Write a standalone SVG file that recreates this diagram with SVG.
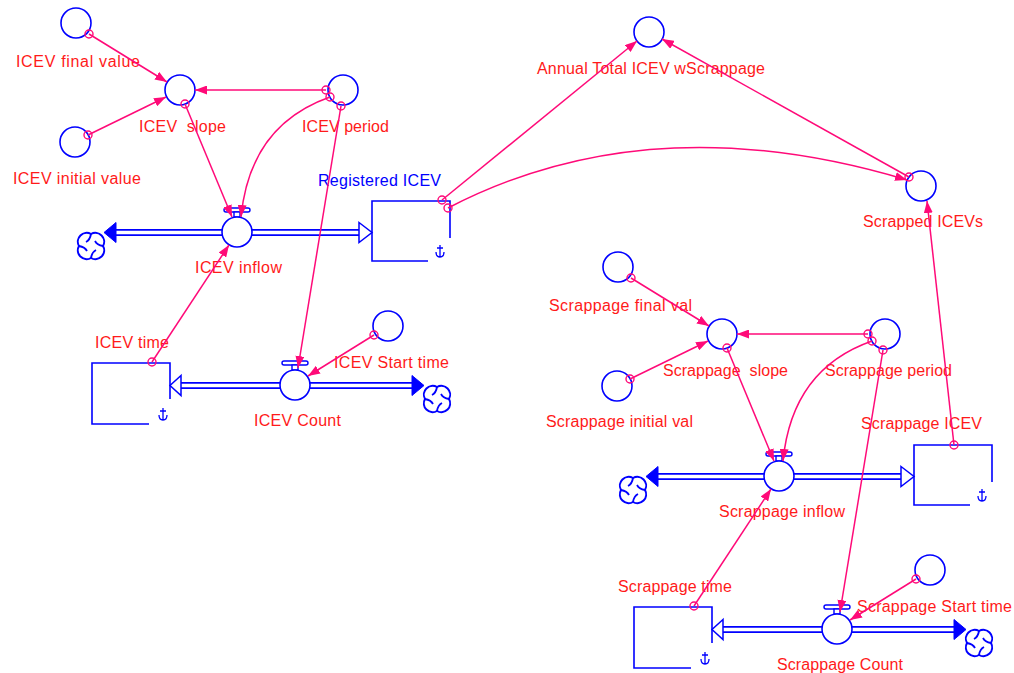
<svg xmlns="http://www.w3.org/2000/svg" xmlns:xlink="http://www.w3.org/1999/xlink" width="1014" height="673" viewBox="0 0 1014 673">
<style>
.aux{fill:#fff;stroke:#0000ff;stroke-width:1.6}
.stock{fill:none;stroke:#0000ff;stroke-width:1.6}
.ico{fill:none;stroke:#0000ff;stroke-width:1.3}
.pipeo{fill:none;stroke:#0000ff;stroke-width:7}
.pipei{fill:none;stroke:#fff;stroke-width:3.4}
.solid{fill:#0000ff;stroke:#0000ff;stroke-width:1}
.hollow{fill:#fff;stroke:#0000ff;stroke-width:1.5}
.bar{fill:#fff;stroke:#0000ff;stroke-width:1.4}
.lbl{font-family:"Liberation Sans",Arial,sans-serif;font-size:16px;fill:#ff1a1a;white-space:pre}
.blue{fill:#0000ff}
.cn{fill:none;stroke:#ff0a78;stroke-width:1.5;marker-end:url(#ah)}
.hd{fill:none;stroke:#ff0a78;stroke-width:1.4}
</style>
<defs>
<marker id="ah" viewBox="0 0 12 9" refX="12" refY="4.5" markerWidth="12" markerHeight="9" orient="auto" markerUnits="userSpaceOnUse">
<path d="M0,0 L12,4.5 L0,9 z" fill="#ff0a78"/>
</marker>
<g id="cloud">
<path class="ico" d="M0,-12 A8.8 8.8 0 0 1 12,0 A8.8 8.8 0 0 1 0,12 A8.8 8.8 0 0 1 -12,0 A8.8 8.8 0 0 1 0,-12 Z" style="stroke-width:2"/>
<path class="ico" d="M0,-12 Q-1,-6 -5,-4 M12,0 Q6,-1 4,-5 M0,12 Q1,6 5,4 M-12,0 Q-6,1 -4,5" style="stroke-width:1.8"/>
</g>
<g id="dag">
<path class="ico" d="M0,-7 V5 M-3,-4 H3 M-4,0 Q-4,5 0,5 Q4,5 4,0"/>
</g>
</defs>
<rect width="1014" height="673" fill="#fff"/>

<!-- flows (pipes) -->
<g id="flows">
<g id="flow-icev-inflow">
<path class="pipeo" d="M116,232.5 H359"/><path class="pipei" d="M114,232.5 H361"/>
<polygon class="solid" points="104,232.5 116,222.5 116,242.5"/>
<polygon class="hollow" points="359,222.5 372,232.5 359,242.5"/>
</g>
<g id="flow-icev-count">
<path class="pipeo" d="M181,385.5 H413"/><path class="pipei" d="M179,385.5 H415"/>
<polygon class="hollow" points="181,375.5 170,385.5 181,395.5"/>
<polygon class="solid" points="424,385.5 412,375.5 412,395.5"/>
</g>
<g id="flow-scrappage-inflow">
<path class="pipeo" d="M658,476.5 H901"/><path class="pipei" d="M656,476.5 H903"/>
<polygon class="solid" points="646,476.5 658,466.5 658,486.5"/>
<polygon class="hollow" points="901,466.5 914,476.5 901,486.5"/>
</g>
<g id="flow-scrappage-count">
<path class="pipeo" d="M723,629.5 H955"/><path class="pipei" d="M721,629.5 H957"/>
<polygon class="hollow" points="723,619.5 712,629.5 723,639.5"/>
<polygon class="solid" points="966,629.5 954,619.5 954,639.5"/>
</g>
</g>

<!-- clouds -->
<g id="cloud-icev-inflow"><use xlink:href="#cloud" href="#cloud" x="91" y="246"/></g>
<g id="cloud-icev-count"><use xlink:href="#cloud" href="#cloud" x="437" y="399"/></g>
<g id="cloud-scrappage-inflow"><use xlink:href="#cloud" href="#cloud" x="633" y="490"/></g>
<g id="cloud-scrappage-count"><use xlink:href="#cloud" href="#cloud" x="979" y="643"/></g>

<!-- left block nodes -->
<g id="icev-final-value"><circle class="aux" cx="76" cy="23" r="15"/><text class="lbl" x="16" y="67" textLength="124" lengthAdjust="spacing">ICEV final value</text></g>
<g id="icev-slope"><circle class="aux" cx="180" cy="90" r="15"/><text class="lbl" x="139" y="132" textLength="87" lengthAdjust="spacing">ICEV  slope</text></g>
<g id="icev-initial-value"><circle class="aux" cx="75" cy="142" r="15"/><text class="lbl" x="13" y="184" textLength="128" lengthAdjust="spacing">ICEV initial value</text></g>
<g id="icev-period"><circle class="aux" cx="343" cy="90" r="15"/><text class="lbl" x="302" y="132" textLength="87" lengthAdjust="spacing">ICEV period</text></g>
<g id="icev-inflow"><rect class="bar" x="224" y="208" width="26" height="4" rx="2"/><rect class="bar" x="234" y="212" width="6" height="5"/><circle class="aux" cx="237" cy="232" r="15"/><text class="lbl" x="195" y="273" textLength="87" lengthAdjust="spacing">ICEV inflow</text></g>
<g id="registered-icev"><path class="stock" d="M450,238 V201 H372 V261 H428"/><use xlink:href="#dag" href="#dag" x="440" y="252"/><text class="lbl blue" x="318" y="186" textLength="123" lengthAdjust="spacing">Registered ICEV</text></g>
<g id="icev-time"><path class="stock" d="M170,399 V363 H92 V424 H149"/><use xlink:href="#dag" href="#dag" x="163" y="415"/><text class="lbl" x="95" y="348" textLength="74" lengthAdjust="spacing">ICEV time</text></g>
<g id="icev-count"><rect class="bar" x="282" y="361" width="26" height="4" rx="2"/><rect class="bar" x="292" y="365" width="6" height="5"/><circle class="aux" cx="295" cy="385" r="15"/><text class="lbl" x="254" y="426" textLength="87" lengthAdjust="spacing">ICEV Count</text></g>
<g id="icev-start-time"><circle class="aux" cx="388" cy="326" r="15"/><text class="lbl" x="334" y="368" textLength="115" lengthAdjust="spacing">ICEV Start time</text></g>

<!-- top right -->
<g id="annual-total"><circle class="aux" cx="649" cy="32" r="15"/><text class="lbl" x="537" y="74" textLength="228" lengthAdjust="spacing">Annual Total ICEV wScrappage</text></g>
<g id="scrapped-icevs"><circle class="aux" cx="921" cy="186" r="15"/><text class="lbl" x="863" y="227" textLength="120" lengthAdjust="spacing">Scrapped ICEVs</text></g>

<!-- right block nodes -->
<g id="scrappage-final-val"><circle class="aux" cx="618" cy="267" r="15"/><text class="lbl" x="549" y="311" textLength="143" lengthAdjust="spacing">Scrappage final val</text></g>
<g id="scrappage-slope"><circle class="aux" cx="722" cy="334" r="15"/><text class="lbl" x="663" y="376" textLength="125" lengthAdjust="spacing">Scrappage  slope</text></g>
<g id="scrappage-initial-val"><circle class="aux" cx="617" cy="386" r="15"/><text class="lbl" x="546" y="427" textLength="147" lengthAdjust="spacing">Scrappage initial val</text></g>
<g id="scrappage-period"><circle class="aux" cx="885" cy="334" r="15"/><text class="lbl" x="825" y="376" textLength="127" lengthAdjust="spacing">Scrappage period</text></g>
<g id="scrappage-inflow"><rect class="bar" x="766" y="452" width="26" height="4" rx="2"/><rect class="bar" x="776" y="456" width="6" height="5"/><circle class="aux" cx="779" cy="476" r="15"/><text class="lbl" x="719" y="517" textLength="126" lengthAdjust="spacing">Scrappage inflow</text></g>
<g id="scrappage-icev"><path class="stock" d="M992,482 V445 H914 V505 H970"/><use xlink:href="#dag" href="#dag" x="982" y="496"/><text class="lbl" x="861" y="429" textLength="121" lengthAdjust="spacing">Scrappage ICEV</text></g>
<g id="scrappage-time"><path class="stock" d="M712,643 V607 H634 V668 H691"/><use xlink:href="#dag" href="#dag" x="705" y="659"/><text class="lbl" x="618" y="592" textLength="114" lengthAdjust="spacing">Scrappage time</text></g>
<g id="scrappage-count"><rect class="bar" x="824" y="605" width="26" height="4" rx="2"/><rect class="bar" x="834" y="609" width="6" height="5"/><circle class="aux" cx="837" cy="629" r="15"/><text class="lbl" x="777" y="670" textLength="126" lengthAdjust="spacing">Scrappage Count</text></g>
<g id="scrappage-start-time"><circle class="aux" cx="930" cy="570" r="15"/><text class="lbl" x="857" y="612" textLength="155" lengthAdjust="spacing">Scrappage Start time</text></g>

<!-- connectors -->
<g id="connectors">
<path class="cn" d="M89,34 L167,82"/><circle class="hd" cx="89" cy="34" r="4"/>
<path class="cn" d="M88,135 L166,97"/><circle class="hd" cx="88" cy="135" r="4"/>
<path class="cn" d="M326,90 L195,90"/><circle class="hd" cx="326" cy="90" r="4"/>
<path class="cn" d="M185,104 L232,217"/><circle class="hd" cx="185" cy="104" r="4"/>
<path class="cn" d="M330,97 Q250,125 241,217"/><circle class="hd" cx="330" cy="97" r="4"/>
<path class="cn" d="M341,106 L298,368"/><circle class="hd" cx="341" cy="106" r="4"/>
<path class="cn" d="M152,362 L229,245"/><circle class="hd" cx="152" cy="362" r="4"/>
<path class="cn" d="M374,335 L308,376"/><circle class="hd" cx="374" cy="335" r="4"/>

<path class="cn" d="M631,278 L709,326"/><circle class="hd" cx="631" cy="278" r="4"/>
<path class="cn" d="M630,379 L708,341"/><circle class="hd" cx="630" cy="379" r="4"/>
<path class="cn" d="M868,334 L737,334"/><circle class="hd" cx="868" cy="334" r="4"/>
<path class="cn" d="M727,348 L774,461"/><circle class="hd" cx="727" cy="348" r="4"/>
<path class="cn" d="M872,341 Q792,369 783,461"/><circle class="hd" cx="872" cy="341" r="4"/>
<path class="cn" d="M883,350 L840,612"/><circle class="hd" cx="883" cy="350" r="4"/>
<path class="cn" d="M694,606 L771,489"/><circle class="hd" cx="694" cy="606" r="4"/>
<path class="cn" d="M916,579 L850,620"/><circle class="hd" cx="916" cy="579" r="4"/>

<path class="cn" d="M442,200 L637,41"/><circle class="hd" cx="442" cy="200" r="4"/>
<path class="cn" d="M909,177 L662,39"/><circle class="hd" cx="909" cy="177" r="4"/>
<path class="cn" d="M448,208 Q650,103 907,180"/><circle class="hd" cx="448" cy="208" r="4"/>
<path class="cn" d="M954,445 L927,201"/><circle class="hd" cx="954" cy="445" r="4"/>
</g>
</svg>
